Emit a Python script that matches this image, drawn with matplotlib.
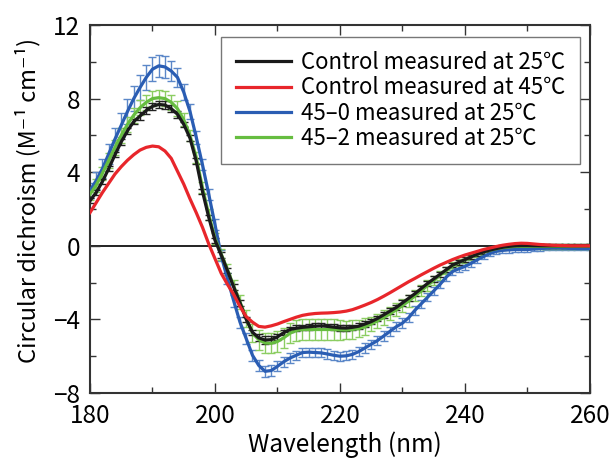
import numpy as np
import matplotlib
matplotlib.use("Agg")
import matplotlib.pyplot as plt
from matplotlib.ticker import MultipleLocator

plt.rcParams['font.family'] = ['Noto Sans CJK JP', 'DejaVu Sans']

wavelength = np.arange(180, 261)

control_25 = [
    2.45, 2.9, 3.5, 4.2, 4.95, 5.65, 6.25, 6.75, 7.05, 7.35,
    7.58, 7.68, 7.65, 7.45, 7.15, 6.6, 5.85, 4.6, 2.95, 1.55,
    0.3, -0.5, -1.35, -2.25, -3.1, -4.0, -4.7, -5.0, -5.12, -5.1,
    -4.95, -4.72, -4.55, -4.48, -4.43, -4.4, -4.37, -4.35, -4.38, -4.42,
    -4.46, -4.47, -4.43, -4.37, -4.25, -4.12, -3.95, -3.75, -3.55, -3.35,
    -3.1, -2.85, -2.6, -2.32, -2.05, -1.8, -1.55, -1.3, -1.05, -0.9,
    -0.75, -0.6, -0.45, -0.33, -0.23, -0.15, -0.08, -0.03, 0.0, 0.02,
    0.02, 0.01, 0.0, 0.0, 0.0, 0.0, 0.0, 0.0, 0.0, 0.0, 0.0,
]
control_25_err = [
    0.15, 0.15, 0.15, 0.15, 0.15, 0.15, 0.15, 0.15, 0.2, 0.2,
    0.2, 0.2, 0.2, 0.2, 0.2, 0.15, 0.15, 0.15, 0.15, 0.15,
    0.15, 0.15, 0.15, 0.15, 0.15, 0.15, 0.15, 0.2, 0.2, 0.2,
    0.15, 0.15, 0.15, 0.15, 0.15, 0.15, 0.15, 0.15, 0.15, 0.15,
    0.15, 0.15, 0.15, 0.15, 0.15, 0.15, 0.15, 0.15, 0.15, 0.15,
    0.15, 0.15, 0.15, 0.15, 0.15, 0.15, 0.15, 0.15, 0.12, 0.12,
    0.12, 0.12, 0.1, 0.1, 0.1, 0.1, 0.1, 0.1, 0.1, 0.1,
    0.1, 0.1, 0.1, 0.1, 0.1, 0.1, 0.1, 0.1, 0.1, 0.1, 0.1,
]

control_45 = [
    1.8, 2.35, 2.9, 3.4, 3.9, 4.3, 4.65, 4.95, 5.2, 5.35,
    5.42, 5.38, 5.15, 4.75, 4.05, 3.35, 2.55, 1.8, 1.0, 0.1,
    -0.7, -1.5, -2.1, -2.65, -3.3, -3.85, -4.15, -4.38, -4.42, -4.35,
    -4.25, -4.12, -4.0, -3.88, -3.78, -3.72, -3.68, -3.66, -3.65, -3.63,
    -3.6, -3.55, -3.47, -3.35, -3.22, -3.08, -2.92, -2.74, -2.55, -2.35,
    -2.15, -1.95, -1.77, -1.58, -1.4, -1.22, -1.05, -0.9, -0.75, -0.62,
    -0.5, -0.4, -0.3, -0.2, -0.12, -0.04, 0.03, 0.08, 0.12, 0.14,
    0.13, 0.1, 0.07, 0.05, 0.03, 0.02, 0.01, 0.0, 0.0, 0.0, 0.0,
]

s45_0 = [
    3.0, 3.55, 4.2, 5.0, 5.8, 6.55, 7.3, 8.0, 8.6, 9.15,
    9.6, 9.78, 9.72, 9.5, 9.15, 8.35, 7.3, 5.9, 4.4, 2.8,
    1.15, -0.55, -1.8, -3.0, -4.15, -5.05, -5.95, -6.5, -6.82, -6.78,
    -6.55, -6.3, -6.1, -5.95, -5.8, -5.78, -5.8, -5.82, -5.88, -5.95,
    -6.0, -5.98, -5.9, -5.75, -5.55, -5.35, -5.15, -4.9, -4.65, -4.4,
    -4.2, -3.9, -3.5, -3.15, -2.8, -2.45, -2.1, -1.7, -1.4, -1.25,
    -1.12, -0.95, -0.75, -0.58, -0.42, -0.3, -0.25, -0.22, -0.2, -0.2,
    -0.2, -0.18, -0.15, -0.13, -0.12, -0.12, -0.13, -0.14, -0.15, -0.15, -0.15,
]
s45_0_err = [
    0.4, 0.45, 0.5, 0.55, 0.6, 0.65, 0.7, 0.7, 0.7, 0.7,
    0.65, 0.6, 0.6, 0.55, 0.5, 0.45, 0.4, 0.35, 0.3, 0.3,
    0.3, 0.3, 0.3, 0.3, 0.3, 0.3, 0.3, 0.3, 0.3, 0.3,
    0.28, 0.28, 0.25, 0.25, 0.25, 0.25, 0.25, 0.25, 0.25, 0.25,
    0.25, 0.25, 0.25, 0.25, 0.25, 0.25, 0.25, 0.25, 0.25, 0.25,
    0.25, 0.25, 0.25, 0.22, 0.22, 0.22, 0.2, 0.2, 0.2, 0.2,
    0.2, 0.18, 0.18, 0.15, 0.15, 0.15, 0.15, 0.15, 0.15, 0.15,
    0.15, 0.12, 0.12, 0.12, 0.12, 0.12, 0.12, 0.1, 0.1, 0.1, 0.1,
]

s45_2 = [
    2.8, 3.3, 3.95, 4.65, 5.35, 6.0, 6.6, 7.1, 7.5, 7.8,
    8.0, 8.05, 8.0, 7.8, 7.45, 6.85, 6.0, 4.8, 3.15, 1.7,
    0.4, -0.45, -1.3, -2.2, -3.05, -3.95, -4.75, -5.1, -5.28, -5.3,
    -5.2, -5.0, -4.75, -4.6, -4.55, -4.55, -4.55, -4.55, -4.55, -4.55,
    -4.57, -4.58, -4.55, -4.5, -4.4, -4.25, -4.08, -3.9, -3.7, -3.48,
    -3.25, -3.0, -2.72, -2.45, -2.15, -1.88, -1.6, -1.35, -1.1, -0.92,
    -0.76, -0.6, -0.46, -0.34, -0.24, -0.16, -0.1, -0.06, -0.03, -0.02,
    -0.02, -0.02, -0.03, -0.03, -0.03, -0.03, -0.03, -0.03, -0.03, -0.03, -0.03,
]
s45_2_err = [
    0.3, 0.35, 0.35, 0.4, 0.4, 0.4, 0.4, 0.4, 0.4, 0.4,
    0.4, 0.4, 0.4, 0.4, 0.4, 0.35, 0.3, 0.3, 0.3, 0.3,
    0.3, 0.3, 0.3, 0.35, 0.4, 0.45, 0.5, 0.55, 0.55, 0.55,
    0.55, 0.55, 0.55, 0.55, 0.55, 0.55, 0.55, 0.55, 0.55, 0.55,
    0.55, 0.5, 0.5, 0.45, 0.45, 0.4, 0.4, 0.4, 0.35, 0.35,
    0.35, 0.35, 0.3, 0.3, 0.3, 0.25, 0.25, 0.2, 0.2, 0.2,
    0.15, 0.15, 0.15, 0.15, 0.12, 0.12, 0.12, 0.12, 0.12, 0.12,
    0.12, 0.12, 0.12, 0.12, 0.12, 0.12, 0.12, 0.12, 0.12, 0.12, 0.12,
]

labels = [
    "Control measured at 25\u2103",
    "Control measured at 45\u2103",
    "45\u20130 measured at 25\u2103",
    "45\u20132 measured at 25\u2103",
]
ytick_vals = [-8, -4, 0, 4, 8, 12]
ytick_text = ["\u22128", "\u22124", "0", "4", "8", "12"]

fig = plt.figure(figsize=(6.11, 4.61), dpi=100)
ax = fig.add_axes([0.1473, 0.1475, 0.8183, 0.7983])

ax.axhline(0, color="#111111", lw=1.3, zorder=1)

ax.errorbar(wavelength, s45_0, yerr=s45_0_err, fmt="none", ecolor="#5b87c8",
            elinewidth=1.0, capsize=3, capthick=1.0, zorder=2)
ax.errorbar(wavelength, s45_2, yerr=s45_2_err, fmt="none", ecolor="#8ccd62",
            elinewidth=1.0, capsize=3, capthick=1.0, zorder=2)
ax.errorbar(wavelength, control_25, yerr=control_25_err, fmt="none", ecolor="#222222",
            elinewidth=1.0, capsize=3, capthick=1.0, zorder=2)

ax.plot(wavelength, s45_0, color="#2a5db3", lw=2.3, label=labels[2], zorder=3)
ax.plot(wavelength, s45_2, color="#66bd40", lw=2.3, label=labels[3], zorder=3)
ax.plot(wavelength, control_25, color="#1a1a1a", lw=2.3, label=labels[0], zorder=4)
ax.plot(wavelength, control_45, color="#e8262b", lw=2.3, label=labels[1], zorder=4)

ax.set_xlim(180, 260)
ax.set_ylim(-8, 12)
ax.xaxis.set_major_locator(MultipleLocator(20))
ax.xaxis.set_minor_locator(MultipleLocator(10))
ax.set_yticks(ytick_vals)
ax.set_yticklabels(ytick_text)
ax.yaxis.set_minor_locator(MultipleLocator(2))
ax.tick_params(which="both", direction="in", top=True, right=True,
               labelsize=17.5, color="#333333", width=1.0)
ax.tick_params(which="major", length=7)
ax.tick_params(axis="x", which="major", pad=7)
ax.tick_params(axis="y", which="major", pad=7)
ax.tick_params(which="minor", length=4)
for s in ax.spines.values():
    s.set_linewidth(1.5)
    s.set_color("#333333")

fig.text(345 / 611, 1 - 445 / 461, "Wavelength (nm)", fontsize=17.5,
         ha="center", va="center")
fig.text(28 / 611, 1 - 200 / 461, "Circular dichroism (M\u207b\u00b9 cm\u207b\u00b9)",
         fontsize=17, rotation=90, ha="center", va="center")

handles, labs = ax.get_legend_handles_labels()
order = [labs.index(l) for l in labels]
leg = ax.legend([handles[i] for i in order], [labs[i] for i in order],
                loc="upper right", bbox_to_anchor=(0.98, 0.968), fontsize=16,
                frameon=True, fancybox=False, handlelength=2.5, handletextpad=0.45,
                labelspacing=0.1, borderpad=0.65, borderaxespad=0)
leg.get_frame().set_edgecolor("#555555")
leg.get_frame().set_linewidth(1.0)

fig.savefig("out.png", dpi=100)
